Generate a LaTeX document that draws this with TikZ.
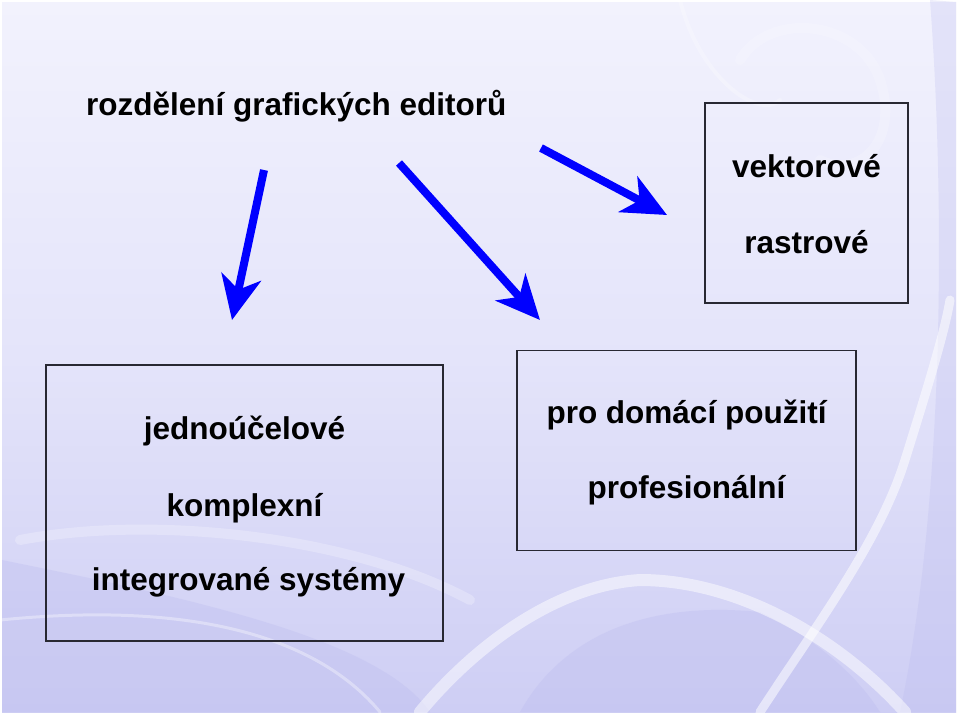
\documentclass[tikz,border=0pt]{standalone}
\usepackage{fontspec}
\setmainfont{Liberation Sans}
\usetikzlibrary{arrows.meta}
\definecolor{bgtop}{RGB}{242,242,253}
\definecolor{bgmid}{RGB}{228,228,250}
\definecolor{bgbot}{RGB}{206,206,244}
\definecolor{bgdeep}{RGB}{185,185,238}
\definecolor{boxline}{RGB}{40,40,50}
\definecolor{arrowblue}{RGB}{0,0,255}
\tikzset{
  x=1pt, y=-1pt,
  framebox/.style={draw=boxline, line width=1.1pt, inner sep=0pt},
  label/.style={anchor=base, inner sep=0pt, font=\bfseries\fontsize{31.5}{36}\selectfont},
  bigarrow/.style={draw=arrowblue, line width=8pt,
    -{Stealth[length=44pt, width=40pt, inset=13pt]}},
  swirl/.style={draw=white, line cap=round},
}
\begin{document}
\begin{tikzpicture}
\useasboundingbox (0,0) rectangle (960,716);
% background
\fill[white] (0,0) rectangle (960,716);
\shade[top color=bgtop, bottom color=bgbot, middle color=bgmid] (2,2) rectangle (956,712);
\fill[bgdeep, opacity=0.3] (2,560) .. controls (200,600) and (380,640) .. (430,712) -- (2,712) -- cycle;
\fill[bgdeep, opacity=0.3] (520,712) .. controls (560,640) and (640,600) .. (760,612) .. controls (820,640) and (860,680) .. (880,712) -- cycle;
\fill[bgdeep, opacity=0.25] (930,0) .. controls (945,200) and (945,500) .. (900,712) -- (956,712) -- (956,2) -- cycle;
% swirls
\draw[swirl, line width=12pt, opacity=0.5] (420,712) .. controls (480,640) and (560,585) .. (640,580) .. controls (740,580) and (840,640) .. (905,712);
\draw[swirl, line width=9pt, opacity=0.55] (760,712) .. controls (820,620) and (880,540) .. (905,460) .. controls (930,380) and (945,330) .. (950,300);
\draw[swirl, line width=10pt, opacity=0.25] (20,540) .. controls (150,515) and (350,535) .. (470,600);
\draw[swirl, line width=3pt, opacity=0.35] (0,620) .. controls (200,600) and (320,640) .. (380,712);
\draw[swirl, line width=10pt, opacity=0.18] (740,60) .. controls (770,10) and (860,20) .. (880,80) .. controls (900,140) and (860,180) .. (820,160);
\draw[swirl, line width=4pt, opacity=0.25] (680,0) .. controls (700,80) and (760,120) .. (780,100);
% title
\node[label, anchor=base west] (title) at (86,115) {rozdělení grafických editorů};
% boxes
\node[framebox, minimum width=203pt, minimum height=200pt] (boxA) at (806.5,203) {};
\node[framebox, minimum width=339pt, minimum height=200pt] (boxB) at (686.5,450.5) {};
\node[framebox, minimum width=397pt, minimum height=276pt] (boxC) at (244.5,503) {};
% texts
\node[label] (vek) at (806.5,177) {vektorové};
\node[label] (ras) at (806.5,253) {rastrové};
\node[label] (dom) at (686.5,423) {pro domácí použití};
\node[label] (pro) at (686.5,498) {profesionální};
\node[label] (jed) at (244.5,439) {jednoúčelové};
\node[label] (kom) at (244.5,516) {komplexní};
\node[label] (int) at (248.5,590) {integrované systémy};
% arrows
\coordinate (a1s) at (264,170);
\coordinate (a1e) at (232,320);
\coordinate (a2s) at (399,163);
\coordinate (a2e) at (540,320);
\coordinate (a3s) at (541,148);
\coordinate (a3e) at (667,215);
\draw[bigarrow] (a1s) -- (a1e);
\draw[bigarrow] (a2s) -- (a2e);
\draw[bigarrow] (a3s) -- (a3e);
\end{tikzpicture}
\end{document}
